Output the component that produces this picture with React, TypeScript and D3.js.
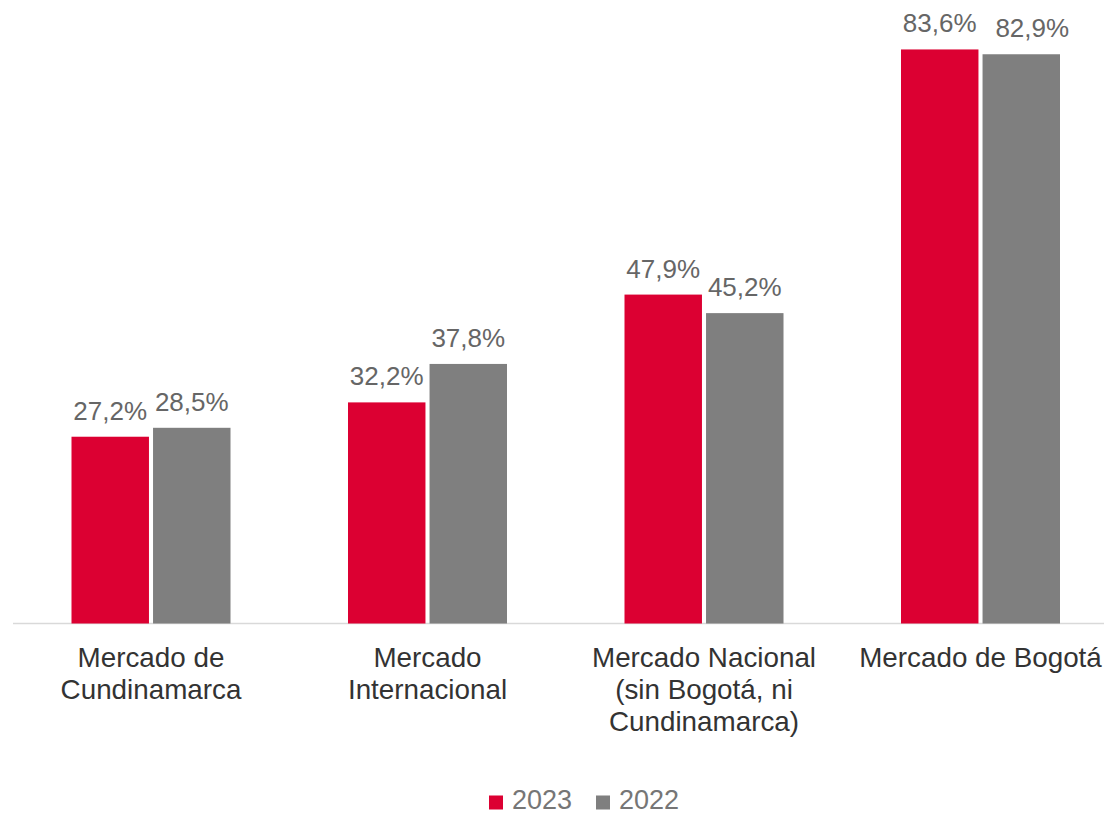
import React from "react";
import * as d3 from "d3";

const categories: string[][] = [
  ["Mercado de", "Cundinamarca"],
  ["Mercado", "Internacional"],
  ["Mercado Nacional", "(sin Bogotá, ni", "Cundinamarca)"],
  ["Mercado de Bogotá"],
];
const seriesNames = ["2023", "2022"];
const values2023 = [27.2, 32.2, 47.9, 83.6];
const values2022 = [28.5, 37.8, 45.2, 82.9];
const colors = ["#DC0032", "#7F7F7F"];

const W = 1104;
const H = 815;
const FONT = "'Liberation Sans', Arial, sans-serif";

export default function App() {
  const keys = categories.map((c) => c.join(" "));
  const x0 = d3.scaleBand<string>().domain(keys).range([12.75, 1118.75]).padding(0);
  const bw = x0.bandwidth();
  const x1 = d3
    .scaleBand<string>()
    .domain(seriesNames)
    .range([(bw - 159) / 2, (bw + 159) / 2])
    .paddingInner(0.05);
  const y = d3.scaleLinear().domain([0, 90]).range([623.5, 5.5]);
  const series = [values2023, values2022];
  const fmt = (v: number) => v.toFixed(1).replace(".", ",") + "%";

  return (
    <svg
      width={W}
      height={H}
      style={{ position: "absolute", left: 0, top: 0, background: "#fff" }}
      fontFamily={FONT}
    >
      <line x1={13} x2={1104} y1={623.5} y2={623.5} stroke="#D9D9D9" strokeWidth={1.5} />
      {keys.map((k, i) => (
        <g key={k} transform={`translate(${x0(k)},0)`}>
          {seriesNames.map((s, j) => {
            const v = series[j][i];
            const bx = x1(s)!;
            // nudge the second label right when the two labels sit at nearly the same height
            const close = j === 1 && Math.abs(y(series[0][i]) - y(v)) < 7;
            return (
              <g key={s}>
                <rect
                  x={bx}
                  y={y(v)}
                  width={x1.bandwidth()}
                  height={y(0) - y(v)}
                  fill={colors[j]}
                />
                <text
                  x={bx + x1.bandwidth() / 2 + (close ? 11 : 0)}
                  y={y(v) - 17}
                  textAnchor="middle"
                  fontSize={26}
                  fill="#666666"
                >
                  {fmt(v)}
                </text>
              </g>
            );
          })}
          <text textAnchor="middle" fontSize={27.8} fill="#333333">
            {categories[i].map((line, li) => (
              <tspan key={li} x={bw / 2} y={667 + li * 32}>
                {line}
              </tspan>
            ))}
          </text>
        </g>
      ))}
      <g>
        {seriesNames.map((s, j) => {
          const lx = j === 0 ? 489 : 596;
          return (
            <g key={s}>
              <rect x={lx} y={795.5} width={14} height={14} fill={colors[j]} />
              <text x={lx + 23} y={809} fontSize={27} fill="#767676">
                {s}
              </text>
            </g>
          );
        })}
      </g>
    </svg>
  );
}
